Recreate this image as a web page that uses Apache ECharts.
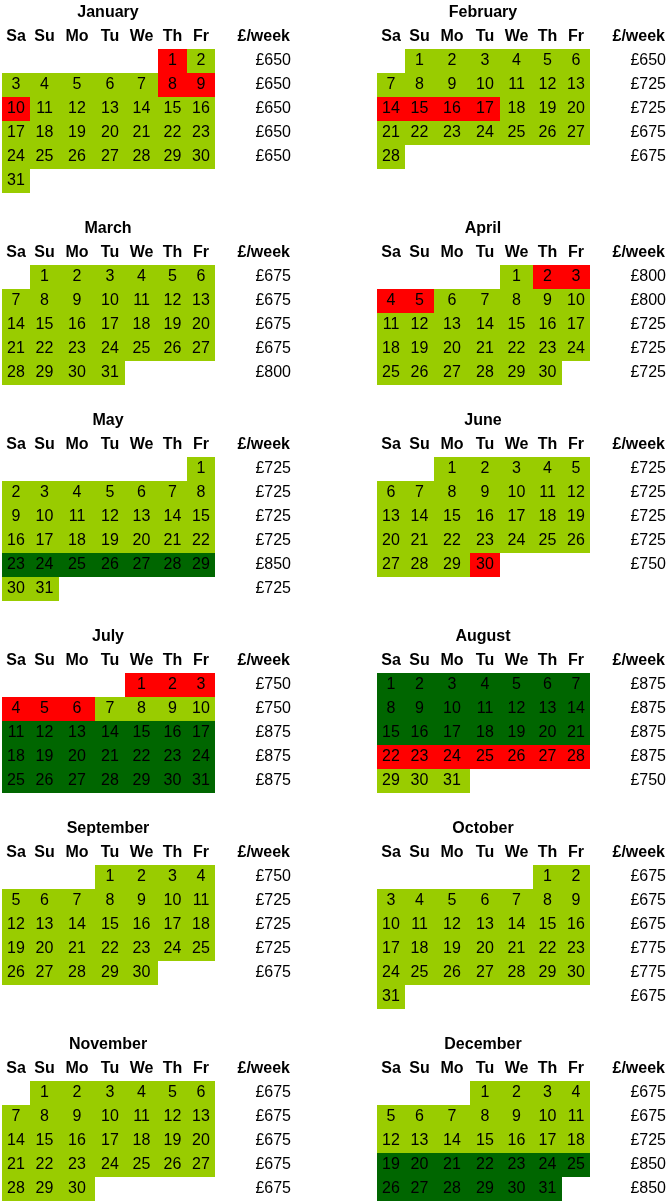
<!DOCTYPE html><html><head><meta charset="utf-8">
<script src="https://cdn.jsdelivr.net/npm/echarts@6/dist/echarts.min.js"></script>
<style>html,body{margin:0;background:#fff}#c{width:672px;height:1201px}</style></head><body><div id="c"></div>
<script>
const monthNames=["January","February","March","April","May","June","July","August","September","October","November","December"];
const startCol=[5,1,1,4,6,2,4,0,3,5,1,3];
const dayCounts=[31,28,31,30,31,30,31,31,30,31,30,31];
const redDays=[[1,8,9,10],[14,15,16,17],[],[2,3,4,5],[],[30],[1,2,3,4,5,6],[22,23,24,25,26,27,28],[],[],[],[]];
const darkRanges=[[],[],[],[],[23,29],[],[11,31],[1,21],[],[],[],[19,31]];
const weekPrices=[[650,650,650,650,650],[650,725,725,675,675],[675,675,675,675,800],[800,800,725,725,725],[725,725,725,725,850,725],[725,725,725,725,750],[750,750,875,875,875],[875,875,875,875,750],[750,725,725,725,675],[675,675,675,775,775,675],[675,675,675,675,675],[675,675,725,850,850]];
const dayHeaders=["Sa","Su","Mo","Tu","We","Th","Fr"];
const priceHeader="£/week";

const colEdges=[2,30,59,95,125,158,187,215];
const colOffset=[0,375];
const rowH=24;
const FONT='"Liberation Sans", Arial, sans-serif';
const LG='#99cc00',DG='#006600',RD='#ff0000';
// block title y centers
const titleY=[];let y=13;
for(let p=0;p<6;p++){titleY.push(y);const r=Math.max(weekPrices[2*p].length+(Math.ceil((startCol[2*p]+dayCounts[2*p])/7)>weekPrices[2*p].length?1:0),Math.ceil((startCol[2*p+1]+dayCounts[2*p+1])/7));y+=rowH*(r+3);}

const cells=[],texts=[];
for(let m=0;m<12;m++){
  const ox=colOffset[m%2],ty=titleY[Math.floor(m/2)];
  texts.push([ox+108,ty,monthNames[m],'bold','center']);
  dayHeaders.forEach((h,i)=>texts.push([ox+(colEdges[i]+colEdges[i+1])/2,ty+rowH,h,'bold','center']));
  texts.push([ox+290,ty+rowH,priceHeader,'bold','right']);
  for(let d=1;d<=dayCounts[m];d++){
    const idx=startCol[m]+d-1,c=idx%7,r=Math.floor(idx/7);
    let col=LG;
    if(redDays[m].includes(d))col=RD;
    const dr=darkRanges[m];if(dr.length&&d>=dr[0]&&d<=dr[1])col=DG;
    cells.push([ox+colEdges[c],ty+rowH*(r+1.5),colEdges[c+1]-colEdges[c],d,col]);
  }
  weekPrices[m].forEach((p,r)=>texts.push([ox+291,ty+rowH*(r+2),'£'+p,'normal','right']));
}
const chart=echarts.init(document.getElementById('c'));
chart.setOption({animation:false,
 grid:{left:0,right:0,top:0,bottom:0},
 xAxis:{type:'value',min:0,max:672,show:false},
 yAxis:{type:'value',min:0,max:1201,inverse:true,show:false},
 series:[
 {type:'custom',data:cells,renderItem:(p,api)=>{
   const a=api.coord([api.value(0),api.value(1)]),b=api.coord([api.value(0)+api.value(2),api.value(1)+rowH]);
   const d=cells[p.dataIndex];
   return {type:'group',children:[
     {type:'rect',shape:{x:a[0],y:a[1],width:b[0]-a[0],height:b[1]-a[1]},style:{fill:d[4]}},
     {type:'text',style:{x:(a[0]+b[0])/2,y:(a[1]+b[1])/2,text:String(d[3]),fill:'#000',font:'16px '+FONT,align:'center',verticalAlign:'middle'}}]};
 }},
 {type:'custom',data:texts.map(t=>[t[0],t[1]]),renderItem:(p,api)=>{
   const t=texts[p.dataIndex],a=api.coord([t[0],t[1]]);
   return {type:'text',style:{x:a[0],y:a[1],text:t[2],fill:'#000',font:t[3]+' 16px '+FONT,align:t[4],verticalAlign:'middle'}};
 }}
 ]});
</script></body></html>
